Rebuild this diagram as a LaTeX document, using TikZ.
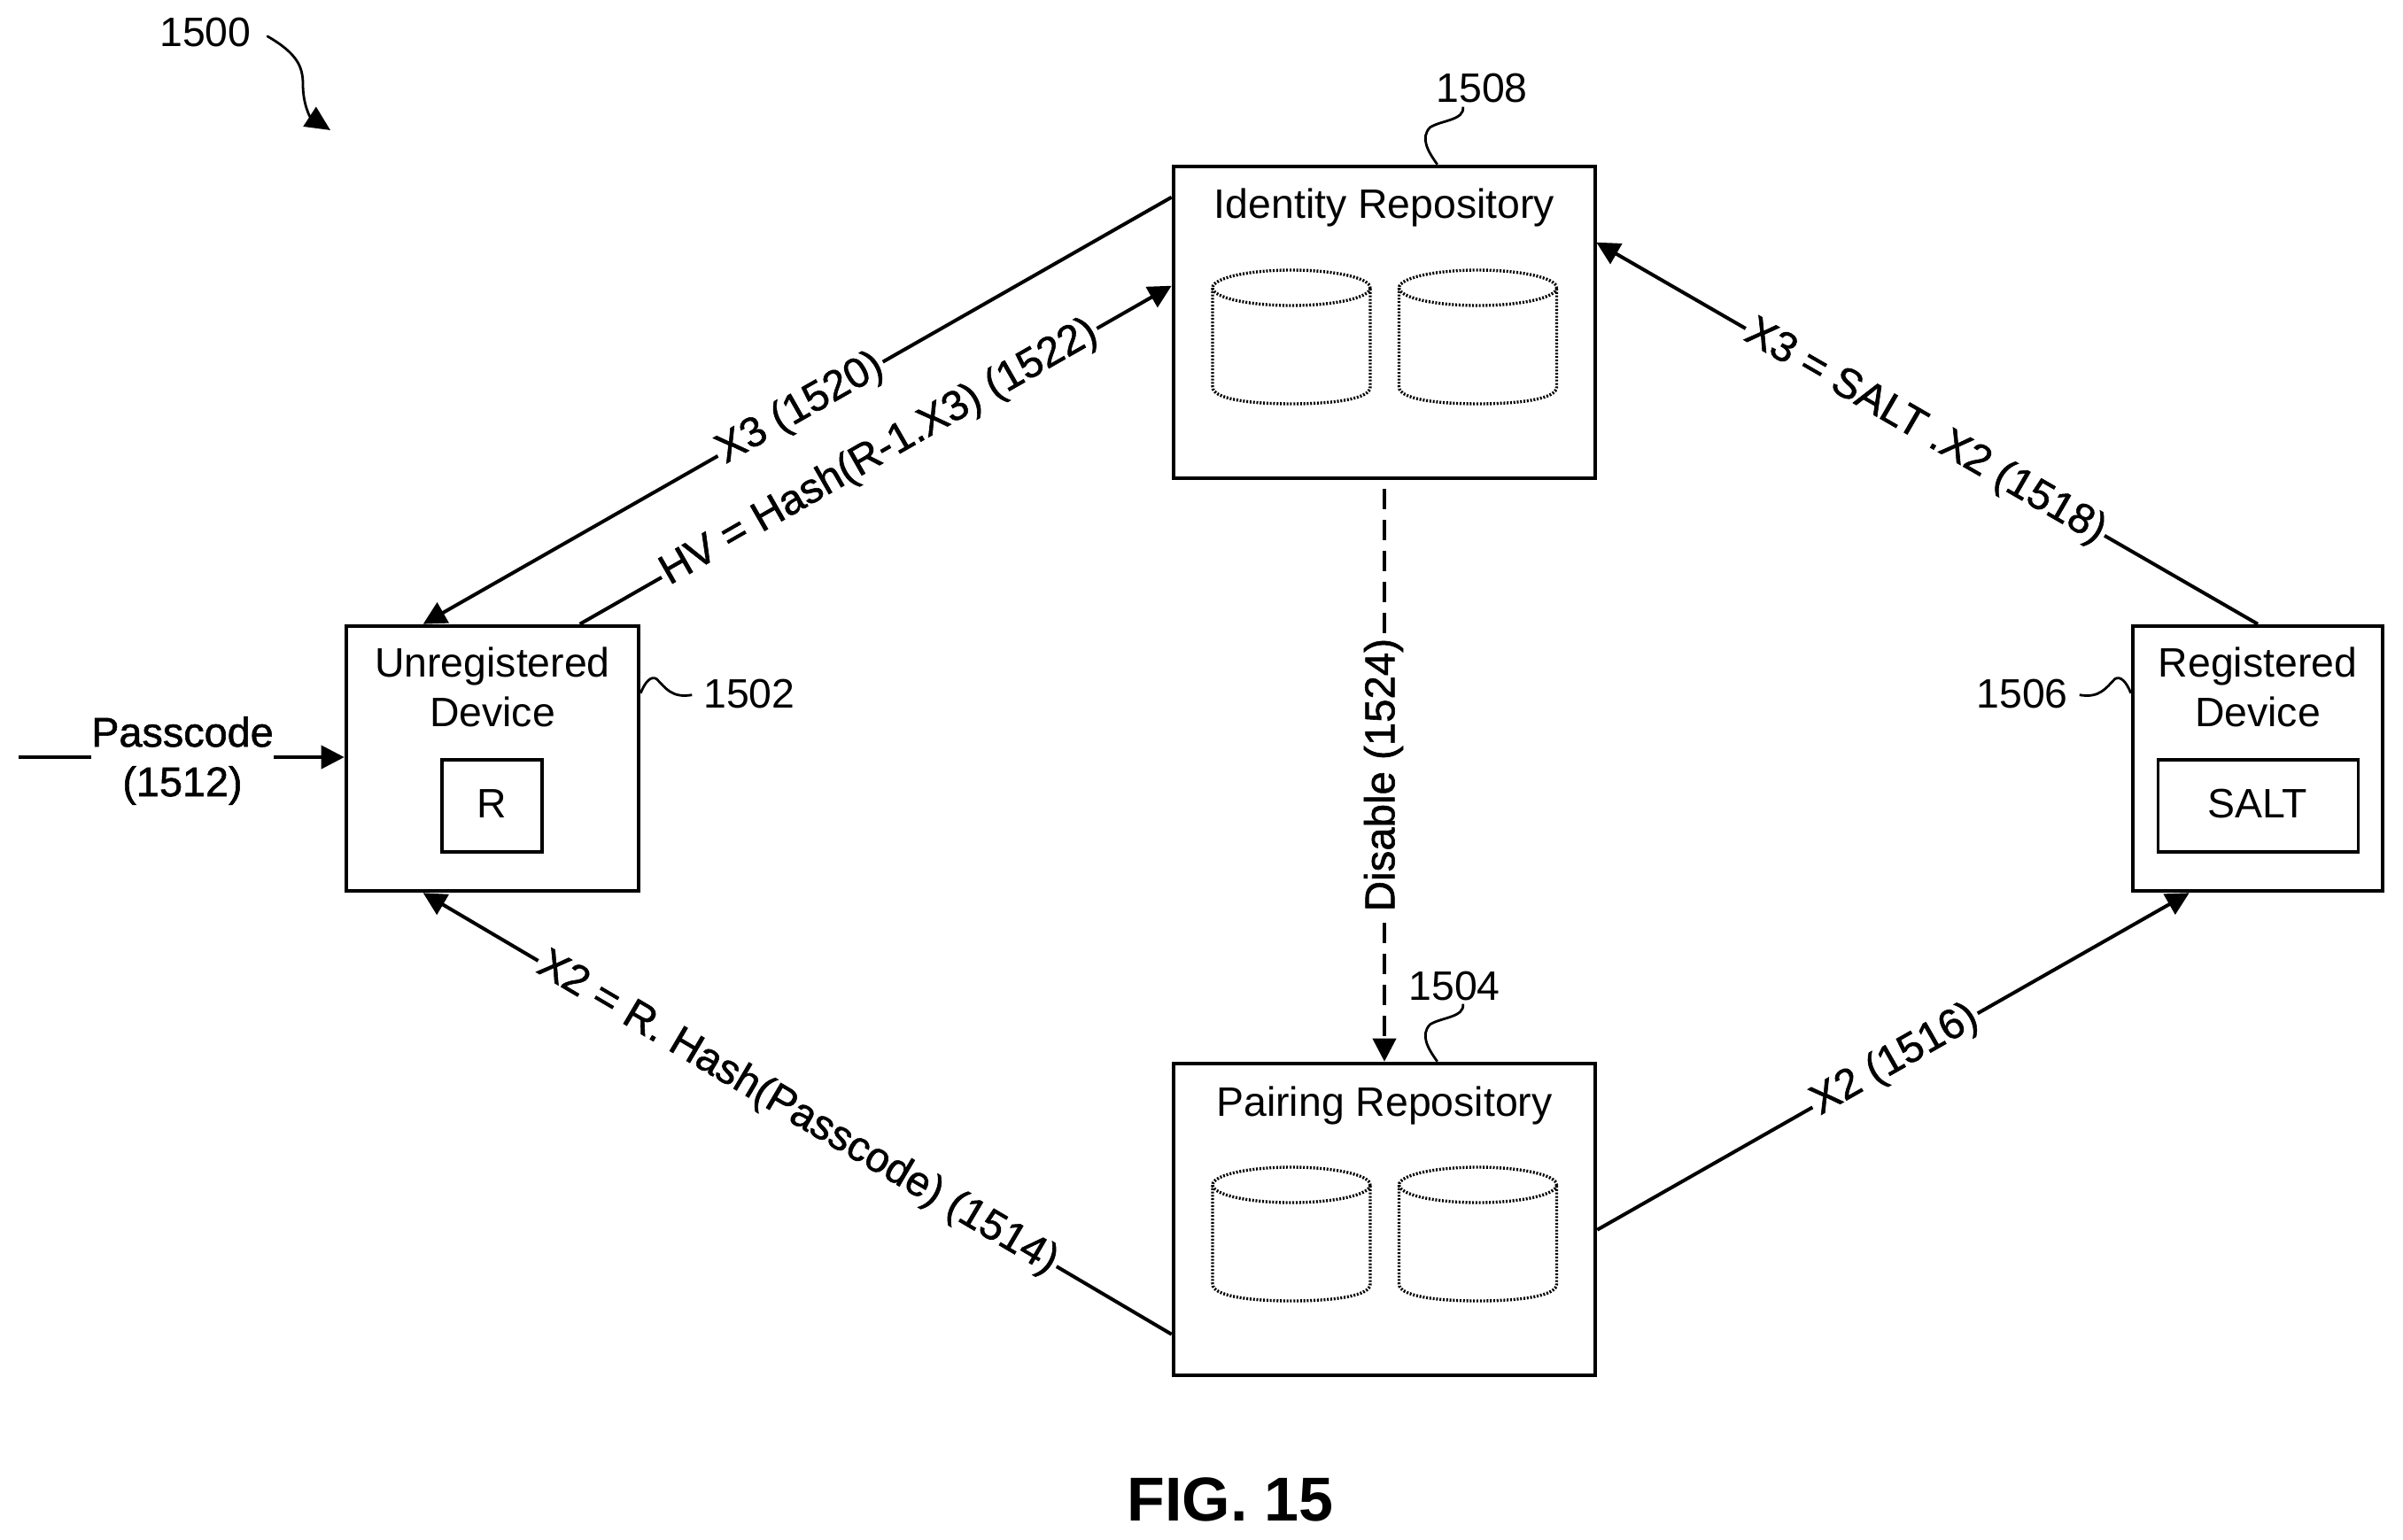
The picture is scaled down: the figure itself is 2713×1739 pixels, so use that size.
\documentclass[tikz,border=0pt]{standalone}
\usepackage{fontspec}
\setmainfont{Liberation Sans}
\newfontfamily\flowfont[FakeBold=1.2]{Liberation Sans}
\usetikzlibrary{arrows.meta,calc}
\tikzset{
  x=0.5pt,y=-0.5pt,
  box/.style={draw=black,line width=2.3pt,fill=white,inner sep=0pt},
  innerbox/.style={draw=black,line width=1.6pt,inner sep=0pt},
  txt/.style={anchor=base,inner sep=0pt,font=\fontsize{23.2}{28}\selectfont},
  conn/.style={line width=2pt,draw=black},
  tip/.style={-{Triangle[length=13pt,width=13pt]}},
  flowtxt/.style={fill=white,inner xsep=1.5pt,inner ysep=0pt,font=\flowfont\fontsize{23.7}{28}\selectfont},
  flow/.style={flowtxt,sloped},
  squig/.style={line width=1.4pt,draw=black},
  dbstack/.pic={
    \draw[line width=1.7pt,dash pattern=on 1pt off 0.9pt] (0,20) ellipse [x radius=89,y radius=20];
    \draw[line width=1.7pt,dash pattern=on 1pt off 0.9pt] (-89,20) -- (-89,132) .. controls (-89,145) and (-50,151) .. (0,151) .. controls (50,151) and (89,145) .. (89,132) -- (89,20);
  }
}
\begin{document}
\begin{tikzpicture}
\path[fill=white,use as bounding box] (0,0) rectangle (2713,1739);

% boxes
\node[box,minimum width=165pt,minimum height=149.5pt] (un) at (556,856.5) {};
\node[box,minimum width=141pt,minimum height=149.5pt] (re) at (2549,856.5) {};
\node[box,minimum width=238pt,minimum height=176pt] (id) at (1563,364) {};
\node[box,minimum width=238pt,minimum height=176pt] (pa) at (1563,1377) {};
\node[innerbox,minimum width=56.5pt,minimum height=52pt] (rbox) at (555.5,910) {};
\node[innerbox,minimum width=113pt,minimum height=52pt] (sbox) at (2549.5,910) {};

% box texts
\node[txt] (tid) at (1563,247) {Identity Repository};
\node[txt] (tpa) at (1563,1260) {Pairing Repository};
\node[txt] (tun1) at (556,764) {Unregistered};
\node[txt] (tun2) at (556,820) {Device};
\node[txt] (tre1) at (2549,764) {Registered};
\node[txt] (tre2) at (2549,820) {Device};
\node[txt] (tr) at (555,923) {R};
\node[txt] (ts) at (2549,923) {SALT};

% databases
\pic at (1458,305) {dbstack};
\pic at (1668.5,305) {dbstack};
\pic at (1458,1318) {dbstack};
\pic at (1668.5,1318) {dbstack};

% flows
\draw[conn,tip] ($(id.north west)+(0,37)$) -- node[flow,pos=.496] (l1520) {X3 (1520)} ($(un.north west)+(89,0)$);
\draw[conn,tip] ($(un.north west)+(266,0)$) -- node[flow,pos=.506] (l1522) {HV = Hash(R-1.X3) (1522)} ($(id.north west)+(0,137)$);
\draw[conn,tip] (re.north) -- node[flow,pos=.503] (l1518) {X3 = SALT .X2 (1518)} ($(id.north east)+(-1,88)$);
\draw[conn,tip] ($(pa.north west)+(0,308)$) -- node[flow,pos=.5] (l1514) {X2 = R. Hash(Passcode) (1514)} ($(un.south west)+(89,0)$);
\draw[conn,tip] ($(pa.north east)+(0,190)$) -- node[flow,pos=.503] (l1516) {X2 (1516)} ($(re.south west)+(66,0)$);
\draw[conn,tip,dash pattern=on 11.5pt off 6pt] ($(id.south)+(0,10)$) -- (pa.north);
\node[flowtxt,rotate=90] (l1524) at (1562,875) {Disable (1524)};

% passcode input
\coordinate (pin) at (21,855);
\draw[conn,tip] (pin) -- (un.west |- pin);
\node[fill=white,inner sep=0pt,minimum width=103pt,align=center,font=\flowfont\fontsize{23.4}{28}\selectfont] (lpass) at (206,859) {Passcode\\(1512)};

% reference numerals
\node[txt] (n1500) at (232,53) {1500};
\node[txt] (n1502) at (846,799) {1502};
\node[txt] (n1504) at (1642,1129) {1504};
\node[txt] (n1506) at (2283,799) {1506};
\node[txt] (n1508) at (1673,116) {1508};

% leaders
\coordinate (s1500) at (302,41);
\coordinate (e1500) at (373,147);
\draw[squig,line cap=round,-{Triangle[length=14pt,width=13pt]}] (s1500) .. controls (335,60) and (342,75) .. (342,95) .. controls (342,118) and (350,132) .. (e1500);
\draw[squig] ($(id.north west)+(300,0)$) .. controls ($(id.north west)+(290,-14)$) and ($(id.north west)+(280,-30)$) .. ($(id.north west)+(292,-42)$) .. controls ($(id.north west)+(305,-50)$) and ($(id.north west)+(331,-50)$) .. ($(id.north west)+(329,-65)$);
\draw[squig] ($(pa.north west)+(300,0)$) .. controls ($(pa.north west)+(290,-14)$) and ($(pa.north west)+(280,-30)$) .. ($(pa.north west)+(292,-42)$) .. controls ($(pa.north west)+(305,-50)$) and ($(pa.north west)+(331,-50)$) .. ($(pa.north west)+(329,-65)$);
\draw[squig] ($(un.north east)+(0,78)$) .. controls ($(un.north east)+(5,65)$) and ($(un.north east)+(12,58)$) .. ($(un.north east)+(18,62)$) .. controls ($(un.north east)+(28,72)$) and ($(un.north east)+(35,84)$) .. ($(un.north east)+(58,80)$);
\draw[squig] ($(re.north west)+(0,78)$) .. controls ($(re.north west)+(-5,65)$) and ($(re.north west)+(-12,58)$) .. ($(re.north west)+(-18,62)$) .. controls ($(re.north west)+(-28,72)$) and ($(re.north west)+(-35,84)$) .. ($(re.north west)+(-58,80)$);

% figure caption
\node[anchor=base,inner sep=0pt,font=\fontsize{35}{40}\selectfont\bfseries] (fig) at (1389,1717) {FIG. 15};
\end{tikzpicture}
\end{document}
